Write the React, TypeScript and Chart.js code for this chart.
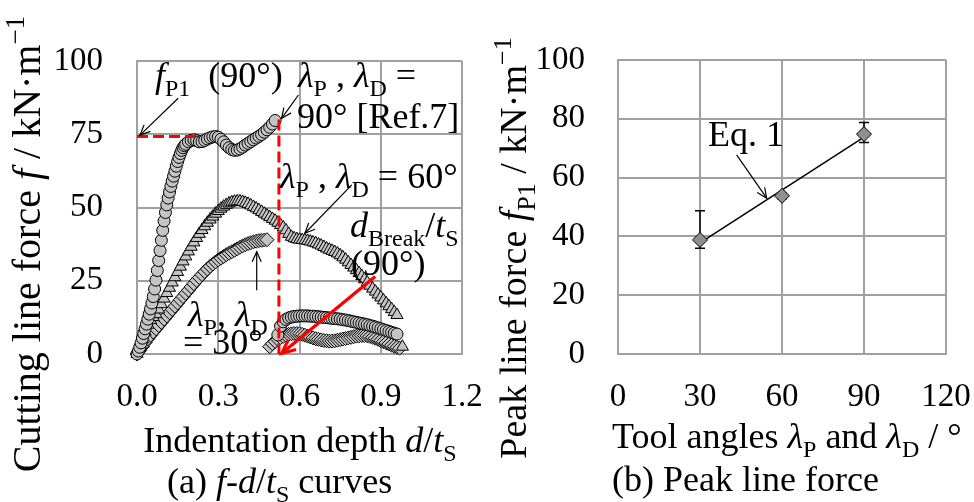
import React, { useEffect, useRef } from "react";
import { Chart, registerables } from "chart.js";
Chart.register(...registerables);

// ---------- DATA: panel (a) f - d/tS curves ----------
const d90 = [0, .005, .01, .015, .02, .025, .03, .035, .04, .045, .05, .055, .06, .065, .07, .075, .08, .085, .09, .095, .1, .105, .11, .115, .12, .125, .13, .135, .14, .145, .15, .155, .16, .165, .17, .175, .18, .19, .2, .21, .22, .23, .24, .25, .26, .27, .28, .29, .3, .31, .32, .33, .34, .35, .36, .37, .38, .39, .4, .41, .42, .43, .44, .45, .46, .47, .48, .49, .5, .51,
  .52, .53, .54, .55, .56, .57, .58, .59, .6, .61, .62, .63, .64, .65, .66, .67, .68, .69, .7, .71, .72, .73, .74, .75, .76, .77, .78, .79, .8, .81, .82, .83, .84, .85, .86, .87, .88, .89, .9, .91, .92, .93, .94, .95, .96];
const f90 = [0, 1, 2.3, 3.8, 5.4, 7, 8.6, 10.2, 11.9, 13.6, 15.4, 17.4, 19.6, 22.2, 25.2, 28.5, 31.9, 35.3, 38.8, 42.2, 45.4, 48.3, 50.9, 53.2, 55.3, 57.2, 59, 60.7, 62.4, 64.1, 65.7, 67.1, 68.4, 69.5, 70.4, 71.1, 71.6, 72.4, 72.9, 73.1, 72.8, 72.4, 72.5, 72.9, 73.4, 73.8, 74.1, 74.2, 74, 73.3, 72.4, 71.3, 70.4, 69.8, 69.5, 69.6, 70, 70.6, 71.3, 71.9, 72.5, 73.1, 73.7, 74.3, 74.9, 75.7, 76.5, 77.4, 78.5, 79.7,
  6.5, 9.5, 11, 11.8, 12.3, 12.6, 12.8, 12.9, 13, 13, 13, 13, 12.9, 12.9, 12.8, 12.7, 12.6, 12.5, 12.4, 12.3, 12.2, 12.1, 12, 11.9, 11.7, 11.6, 11.4, 11.2, 11, 10.8, 10.6, 10.4, 10.2, 10, 9.7, 9.5, 9.2, 8.9, 8.6, 8.3, 8, 7.7, 7.4, 7.1, 6.8];

const d60 = [0, .01, .02, .03, .04, .05, .06, .07, .08, .09, .1, .11, .12, .13, .14, .15, .16, .17, .18, .19, .2, .21, .22, .23, .24, .25, .26, .27, .28, .29, .3, .31, .32, .33, .34, .35, .36, .37, .38, .39, .4, .41, .42, .43, .44, .45, .46, .47, .48, .49, .5, .51, .52, .53, .54, .55, .56, .57, .58, .59, .6, .61, .62, .63, .64, .65, .66, .67, .68, .69, .7, .71, .72, .73, .74, .75, .76, .77, .78, .79, .8, .81, .82, .83, .84, .85, .86, .87, .88, .89, .9, .91, .92, .93, .94, .95, .96, .98];
const f60 = [0, 2.5, 5, 7.6, 10, 11.6, 12.6, 13.6, 15.2, 17, 18.9, 20.8, 22.6, 24.4, 26.2, 28, 29.8, 31.6, 33.3, 35, 36.6, 38.1, 39.6, 41, 42.3, 43.6, 44.8, 45.9, 46.9, 47.9, 48.8, 49.6, 50.3, 50.9, 51.4, 51.8, 52, 52.1, 52.1, 51.9, 51.6, 51.2, 50.7, 50.2, 49.7, 49.1, 48.5, 47.9, 47.3, 46.7, 46.1, 45.5, 44.8, 44, 43.2, 42.2, 41, 40, 39.5, 39.2, 39, 38.9, 38.8, 38.6, 38.4, 38.1, 37.8, 37.4, 37, 36.5, 36, 35.6, 35.2, 34.8, 34.3, 33.7, 33, 32.2, 31.3, 30.4, 29.5, 28.6, 27.6, 26.6, 25.5, 24.4, 23.3, 22.3, 21.3, 20.3, 19.3, 18.3, 17.3, 16.3, 15.3, 14.3, 13.3, 2.5];

const d30 = [0, .01, .02, .03, .04, .05, .06, .07, .08, .09, .1, .11, .12, .13, .14, .15, .16, .17, .18, .19, .2, .21, .22, .23, .24, .25, .26, .27, .28, .29, .3, .31, .32, .33, .34, .35, .36, .37, .38, .39, .4, .41, .42, .43, .44, .45, .46, .47, .48, .49, .5, .51, .52, .53, .54, .55, .56, .57, .58, .59, .6, .61, .62, .63, .64, .65, .66, .67, .68, .69, .7, .71, .72, .73, .74, .75, .76, .77, .78, .79, .8, .81, .82, .83, .84, .85, .86, .87, .88, .89, .9, .91, .92, .93, .94, .95, .96, .97];
const f30 = [0, 1.2, 2.5, 3.9, 5.2, 6.4, 7.5, 8.6, 9.7, 10.8, 11.9, 13, 14.1, 15.2, 16.3, 17.4, 18.5, 19.6, 20.7, 21.8, 22.9, 24, 25.1, 26.1, 27.1, 28.1, 29, 29.9, 30.7, 31.4, 32.1, 32.7, 33.3, 33.9, 34.4, 34.9, 35.4, 35.9, 36.4, 36.9, 37.3, 37.7, 38, 38.3, 38.5, 38.7, 38.8, 38.9, 39,
  2.5, 3.5, 4.3, 5, 5.6, 6, 6.4, 6.7, 6.9, 7, 7, 6.9, 6.7, 6.4, 6.1, 5.8, 5.5, 5.2, 5, 4.8, 4.6, 4.5, 4.4, 4.4, 4.5, 4.7, 4.9, 5.1, 5.3, 5.5, 5.7, 5.9, 6.1, 6.2, 6.3, 6.3, 6.2, 6, 5.7, 5.4, 5, 4.6, 4.2, 3.8, 3.4, 3, 2.6, 2.3, 2];

const xTicksA = [0, 0.3, 0.6, 0.9, 1.2];
const yTicksA = [0, 25, 50, 75, 100];

// reference guide lines of panel (a)
const peakHx = [0, 0.24];
const peakHy = [74.2, 74.2];
const breakVx = [0.524, 0.524];
const breakVy = [80, 0];
const breakArrowX = [0.879, 0.534];
const breakArrowY = [26.4, 0.2];
// annotation arrows [x1, y1, x2, y2] (data units)
const annoArrowsA = [
  [0.152, 87.3, 0.011, 74.7],
  [0.596, 88.4, 0.534, 80.4],
  [0.793, 57.7, 0.62, 41.2],
  [0.442, 21.8, 0.442, 34.9],
];

// ---------- DATA: panel (b) peak line force ----------
const angles = [30, 60, 90];
const peakForce = [38.8, 53.8, 74.8];
const errUp = [9.9, 1, 3.9];
const errDown = [2.8, 1, 2.9];
const fitX = [30, 90];
const fitY = [37.8, 73.8];
const xTicksB = [0, 30, 60, 90, 120];
const yTicksB = [0, 20, 40, 60, 80, 100];
const eqArrow = [43.4, 67.7, 54.4, 53.0];

// ---------- helpers ----------
const FONT = '"Liberation Serif", "Times New Roman", serif';
type Part = { t: string; i?: boolean; sub?: boolean; sup?: boolean };

function fontFor(p: Part, size: number) {
  const s = p.sub || p.sup ? Math.round(size * 0.68) : size;
  return `${p.i ? "italic " : ""}${s}px ${FONT}`;
}
function richWidth(ctx: CanvasRenderingContext2D, parts: Part[], size: number) {
  let w = 0;
  for (const p of parts) {
    ctx.font = fontFor(p, size);
    w += ctx.measureText(p.t).width;
  }
  return w;
}
function drawRich(ctx: CanvasRenderingContext2D, parts: Part[], x: number, y: number, size: number, align: "left" | "center" = "left") {
  let cx = align === "center" ? x - richWidth(ctx, parts, size) / 2 : x;
  ctx.textBaseline = "alphabetic";
  ctx.textAlign = "left";
  ctx.fillStyle = "#000";
  for (const p of parts) {
    ctx.font = fontFor(p, size);
    const dy = p.sub ? size * 0.24 : p.sup ? -size * 0.4 : 0;
    ctx.fillText(p.t, cx, y + dy);
    cx += ctx.measureText(p.t).width;
  }
}
function drawRotated(ctx: CanvasRenderingContext2D, parts: Part[], x: number, y: number, size: number) {
  ctx.save();
  ctx.translate(x, y);
  ctx.rotate(-Math.PI / 2);
  drawRich(ctx, parts, 0, 0, size, "center");
  ctx.restore();
}
function arrow(ctx: CanvasRenderingContext2D, x1: number, y1: number, x2: number, y2: number, color: string, width: number, head: number) {
  ctx.save();
  ctx.strokeStyle = color;
  ctx.lineWidth = width;
  ctx.setLineDash([]);
  ctx.lineCap = "butt";
  ctx.beginPath();
  ctx.moveTo(x1, y1);
  ctx.lineTo(x2, y2);
  ctx.stroke();
  const a = Math.atan2(y2 - y1, x2 - x1);
  ctx.beginPath();
  ctx.moveTo(x2 - head * Math.cos(a - 0.42), y2 - head * Math.sin(a - 0.42));
  ctx.lineTo(x2, y2);
  ctx.lineTo(x2 - head * Math.cos(a + 0.42), y2 - head * Math.sin(a + 0.42));
  ctx.stroke();
  ctx.restore();
}

const GRID = "#a0a0a0";
const pts = (xs: number[], ys: number[]) => xs.map((x, i) => ({ x, y: ys[i] }));

const L = (t: string): Part => ({ t, i: true });
const S = (t: string): Part => ({ t, sub: true });
const N = (t: string): Part => ({ t });

// ---------- panel (a) ----------
const plugA = {
  id: "annA",
  afterDraw(chart: any) {
    const ctx = chart.ctx as CanvasRenderingContext2D;
    const xs = chart.scales.x, ys = chart.scales.y;
    const px = (v: number) => xs.getPixelForValue(v);
    const py = (v: number) => ys.getPixelForValue(v);
    arrow(ctx, px(breakArrowX[0]), py(breakArrowY[0]), px(breakArrowX[1]), py(breakArrowY[1]), "#ff0000", 3, 15);
    for (const a of annoArrowsA) arrow(ctx, px(a[0]), py(a[1]), px(a[2]), py(a[3]), "#000", 1.2, 11);
    const F = 36;
    drawRich(ctx, [L("f"), S("P1"), N("  (90°)")], 155, 87, F);
    drawRich(ctx, [L("λ"), S("P"), N(" , "), L("λ"), S("D"), N(" =")], 298, 87, F);
    drawRich(ctx, [N("90° [Ref.7]")], 297, 128, F);
    drawRich(ctx, [L("λ"), S("P"), N(" , "), L("λ"), S("D"), N(" = 60°")], 280, 188, F);
    drawRich(ctx, [L("d"), S("Break"), N("/"), L("t"), S("S")], 350, 237, F);
    drawRich(ctx, [N("(90°)")], 351, 275, F);
    drawRich(ctx, [L("λ"), S("P"), N(", "), L("λ"), S("D")], 188, 326, F);
    drawRich(ctx, [N("= 30°")], 183, 354, F);
    drawRotated(ctx, [N("Cutting line force "), L("f"), N(" / kN·m"), { t: "−1", sup: true }], 40, 244, 40);
    drawRich(ctx, [N("Indentation depth "), L("d"), N("/"), L("t"), S("S")], 300, 452, F, "center");
    drawRich(ctx, [N("(a) "), L("f"), N("-"), L("d"), N("/"), L("t"), S("S"), N(" curves")], 167, 493, F);
  },
};

// ---------- panel (b) ----------
const plugB = {
  id: "annB",
  beforeDatasetsDraw(chart: any) {
    const ctx = chart.ctx as CanvasRenderingContext2D;
    const xs = chart.scales.x, ys = chart.scales.y;
    ctx.save();
    ctx.strokeStyle = "#000";
    ctx.lineWidth = 1.5;
    for (let i = 0; i < angles.length; i++) {
      const x = xs.getPixelForValue(angles[i]);
      const yt = ys.getPixelForValue(peakForce[i] + errUp[i]);
      const yb = ys.getPixelForValue(peakForce[i] - errDown[i]);
      ctx.beginPath();
      ctx.moveTo(x, yt); ctx.lineTo(x, yb);
      ctx.moveTo(x - 5, yt); ctx.lineTo(x + 5, yt);
      ctx.moveTo(x - 5, yb); ctx.lineTo(x + 5, yb);
      ctx.stroke();
    }
    ctx.restore();
  },
  afterDraw(chart: any) {
    const ctx = chart.ctx as CanvasRenderingContext2D;
    const xs = chart.scales.x, ys = chart.scales.y;
    const F = 36;
    arrow(ctx, xs.getPixelForValue(eqArrow[0]), ys.getPixelForValue(eqArrow[1]), xs.getPixelForValue(eqArrow[2]), ys.getPixelForValue(eqArrow[3]), "#000", 1.2, 11);
    drawRich(ctx, [N("Eq. 1")], 218, 146, F);
    drawRotated(ctx, [N("Peak line force "), L("f"), S("P1"), N(" / kN·m"), { t: "−1", sup: true }], 36, 248, 38);
    drawRich(ctx, [N("Tool angles "), L("λ"), S("P"), N(" and "), L("λ"), S("D"), N(" / °")], 122, 448, F);
    drawRich(ctx, [N("(b) Peak line force")], 122, 491, F);
  },
};

function axisCfg(min: number, max: number, ticks: number[], isX: boolean, pad: number, size: number, fmt: (v: number) => string) {
  return {
    type: "linear",
    min, max,
    afterBuildTicks: (s: any) => { s.ticks = ticks.map((v) => ({ value: v })); },
    afterFit: (s: any) => {
      if (isX) s.height = 148; else s.width = size;
      s.paddingLeft = 0; s.paddingRight = 0; s.paddingTop = 0; s.paddingBottom = 0;
    },
    grid: { color: GRID, lineWidth: 2, drawTicks: false },
    border: { color: GRID, width: 2 },
    ticks: {
      color: "#000",
      font: { family: FONT, size: 33 },
      padding: pad,
      maxRotation: 0,
      autoSkip: false,
      callback: (v: any) => fmt(Number(v)),
    },
  };
}

export default function App() {
  const ref1 = useRef<HTMLCanvasElement>(null);
  const ref2 = useRef<HTMLCanvasElement>(null);
  useEffect(() => {
    const markerA = { backgroundColor: "#c4c4c4", borderColor: "#000", borderWidth: 1, clip: false as any };
    const c1 = new Chart(ref1.current!, {
      type: "scatter",
      data: {
        datasets: [
          { data: pts(peakHx, peakHy), showLine: true, borderColor: "#ff0000", borderWidth: 3, borderDash: [11, 5], pointRadius: 0, clip: false as any },
          { data: pts(breakVx, breakVy), showLine: true, borderColor: "#ff0000", borderWidth: 3, borderDash: [11, 5], pointRadius: 0, clip: false as any },
          { data: pts(breakArrowX, breakArrowY), showLine: true, borderColor: "#ff0000", borderWidth: 3, pointRadius: 0, clip: false as any },
          { data: pts(d90, f90), pointStyle: "circle", pointRadius: 6, ...markerA },
          { data: pts(d60, f60), pointStyle: "triangle", pointRadius: 7, ...markerA },
          { data: pts(d30, f30), pointStyle: "rectRot", pointRadius: 7, ...markerA },
        ] as any,
      },
      options: {
        responsive: false,
        animation: false,
        events: [],
        layout: { padding: { top: 61, right: 28, left: 0, bottom: 0 } },
        plugins: { legend: { display: false }, tooltip: { enabled: false } },
        scales: {
          x: axisCfg(0, 1.2, xTicksA, true, 24, 0, (v) => v.toFixed(1)) as any,
          y: axisCfg(0, 100, yTicksA, false, 34, 137, (v) => String(v)) as any,
        },
      },
      plugins: [plugA],
    });
    const c2 = new Chart(ref2.current!, {
      type: "scatter",
      data: {
        datasets: [
          { data: pts(angles, peakForce), pointStyle: "rectRot", pointRadius: 7.5, backgroundColor: "#8f8f8f", borderColor: "#000", borderWidth: 1, clip: false as any },
          { data: pts(fitX, fitY), showLine: true, borderColor: "#000", borderWidth: 1.5, pointRadius: 0 },
        ] as any,
      },
      options: {
        responsive: false,
        animation: false,
        events: [],
        layout: { padding: { top: 60, right: 28, left: 0, bottom: 0 } },
        plugins: { legend: { display: false }, tooltip: { enabled: false } },
        scales: {
          x: axisCfg(0, 120, xTicksB, true, 24, 0, (v) => String(v)) as any,
          y: axisCfg(0, 100, yTicksB, false, 33, 128, (v) => String(v)) as any,
        },
      },
      plugins: [plugB],
    });
    return () => { c1.destroy(); c2.destroy(); };
  }, []);
  return (
    <div style={{ position: "fixed", left: 0, top: 0, width: 974, height: 502, background: "#fff" }}>
      <canvas ref={ref1} width={490} height={502} style={{ position: "absolute", left: 0, top: 0 }} />
      <canvas ref={ref2} width={484} height={502} style={{ position: "absolute", left: 490, top: 0 }} />
    </div>
  );
}
